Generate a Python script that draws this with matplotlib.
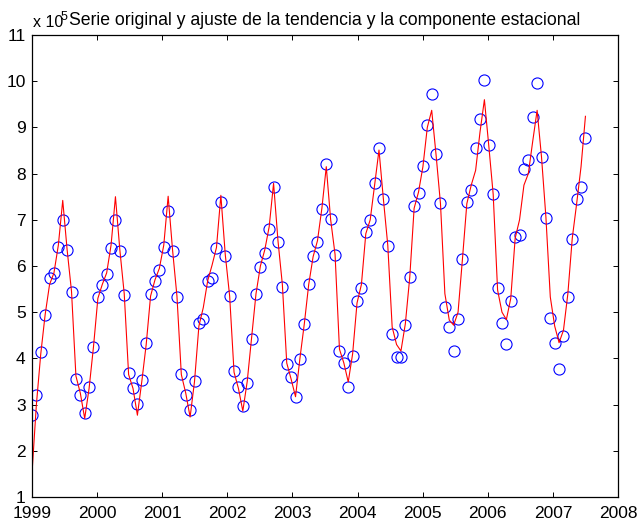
import numpy as np
import matplotlib
matplotlib.use("Agg")
import matplotlib.pyplot as plt

# monthly series, in units of 1e5
serie = [
    2.77, 3.20, 4.14, 4.94, 5.73, 5.84, 6.41, 6.99, 6.34, 5.44, 3.56, 3.20,
    2.81, 3.38, 4.25, 5.33, 5.58, 5.82, 6.38, 6.99, 6.33, 5.37, 3.69, 3.35,
    3.01, 3.53, 4.34, 5.39, 5.68, 5.92, 6.41, 7.19, 6.32, 5.32, 3.67, 3.20,
    2.88, 3.51, 4.76, 4.86, 5.68, 5.73, 6.40, 7.39, 6.21, 5.35, 3.72, 3.38,
    2.97, 3.47, 4.42, 5.40, 5.98, 6.28, 6.80, 7.71, 6.52, 5.55, 3.87, 3.59,
    3.17, 3.98, 4.74, 5.60, 6.22, 6.52, 7.24, 8.20, 7.01, 6.23, 4.16, 3.89,
    3.37, 4.05, 5.24, 5.53, 6.74, 6.99, 7.80, 8.56, 7.46, 6.43, 4.52, 4.03,
    4.02, 4.72, 5.76, 7.29, 7.59, 8.16, 9.06, 9.72, 8.42, 7.37, 5.11, 4.68,
    4.16, 4.86, 6.15, 7.39, 7.64, 8.56, 9.18, 10.02, 8.61, 7.55, 5.53, 4.77,
    4.32, 5.24, 6.62, 6.67, 8.11, 8.29, 9.23, 9.96, 8.36, 7.04, 4.88, 4.34,
    3.76, 4.48, 5.33, 6.58, 7.46, 7.71, 8.78,
]

# trend + seasonal fit
ajuste = [
    1.51, 3.00, 4.10, 4.95, 5.60, 5.85, 6.45, 7.42, 6.35, 5.45, 3.62, 3.25,
    2.70, 3.35, 4.25, 5.30, 5.60, 5.85, 6.45, 7.50, 6.35, 5.40, 3.65, 3.35,
    2.77, 3.50, 4.30, 5.35, 5.70, 5.95, 6.45, 7.51, 6.35, 5.35, 3.65, 3.25,
    2.73, 3.50, 4.70, 5.10, 5.68, 6.02, 6.40, 7.53, 6.25, 5.35, 3.70, 3.35,
    2.86, 3.50, 4.45, 5.40, 6.00, 6.35, 6.85, 7.79, 6.55, 5.60, 3.90, 3.55,
    3.17, 4.00, 4.75, 5.60, 6.20, 6.55, 7.25, 8.15, 7.00, 6.25, 4.20, 3.90,
    3.49, 4.10, 5.20, 5.60, 6.70, 7.00, 7.75, 8.51, 7.45, 6.45, 4.68, 4.30,
    4.16, 4.75, 5.75, 7.25, 7.60, 8.15, 9.00, 9.37, 8.40, 7.35, 5.40, 4.83,
    4.72, 5.00, 6.15, 7.35, 7.75, 8.07, 8.90, 9.60, 8.60, 7.55, 5.48, 5.00,
    4.84, 5.30, 6.60, 7.00, 7.75, 8.00, 8.70, 9.37, 8.36, 7.06, 5.33, 4.70,
    4.34, 4.61, 5.40, 6.60, 7.35, 8.15, 9.24,
]

t = np.linspace(1999, 2007.5, len(serie))
xticks = list(range(1999, 2009))
yticks = list(range(1, 12))

plt.rcParams["font.family"] = ["Liberation Sans", "DejaVu Sans"]
fig = plt.figure(figsize=(6.41, 5.21), dpi=100)
ax = fig.add_axes([0.0499, 0.0461, 0.9142, 0.8867])

ax.plot(t, serie, "o", mfc="none", mec="#0000ff", ms=8, mew=0.8)
ax.plot(t, ajuste, "-", color="#ff0000", lw=0.8)

ax.set_xlim(1999, 2008)
ax.set_ylim(1, 11)
ax.set_xticks(xticks)
ax.set_yticks(yticks)
ax.tick_params(direction="in", length=3.6, width=0.7, top=True, right=True,
               labelsize=12.5)
ax.tick_params(axis="x", pad=6.5)
ax.tick_params(axis="y", pad=4.5)
for s in ax.spines.values():
    s.set_linewidth(0.9)

# exponent of the y values, sits under the start of the title
fig.text(33 / 641, 1 - 27 / 521, "x 10", fontsize=11.5, va="baseline")
fig.text(61 / 641, 1 - 20 / 521, "5", fontsize=9, va="baseline")
ax.set_title("Serie original y ajuste de la tendencia y la componente estacional",
             fontsize=12.7, pad=7)

fig.savefig("out.png", dpi=100)
